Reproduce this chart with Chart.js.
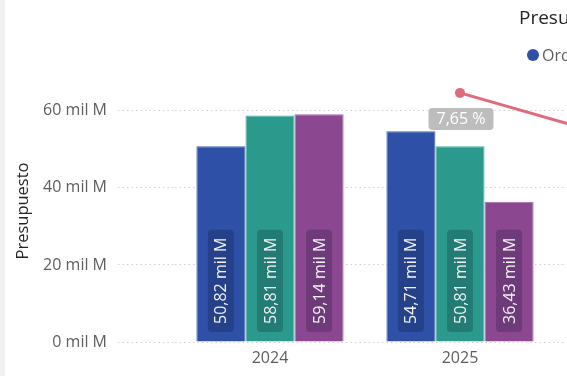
<!DOCTYPE html>
<html>
<head>
<meta charset="utf-8">
<script src="https://cdn.jsdelivr.net/npm/chart.js@4/dist/chart.umd.min.js"></script>
<style>
  html, body { margin: 0; padding: 0; background: #ffffff; overflow: hidden; }
  #stage { position: relative; width: 567px; height: 376px; overflow: hidden; background: #ffffff;
           font-family: "Segoe UI", "Open Sans", sans-serif; }
  #strip { position: absolute; left: 0; top: 0; width: 5px; height: 376px; background: #f1f1f1; }
  #chartBox { position: absolute; left: 0; top: 0; width: 760px; height: 376px; }
  #title { position: absolute; left: 519px; top: 4px; white-space: nowrap; font-size: 19px; color: #252423; }
  #legend { position: absolute; left: 527px; top: 44px; white-space: nowrap; display: flex; gap: 14px;
            font-size: 16px; color: #605E5C; }
  .item { display: flex; align-items: center; }
  .dot { width: 12px; height: 12px; border-radius: 50%; margin-right: 3px; display: inline-block; }
</style>
</head>
<body>
<div id="stage">
  <div id="strip"></div>
  <div id="chartBox"><canvas id="c" width="760" height="376"></canvas></div>
  <div id="title">Presupuesto por año</div>
  <div id="legend"></div>
</div>
<script>
// ---- data ----
const categories = ['2024', '2025', '2026'];
const seriesNames = ['Ordinario', 'Modificado', 'Ejecutado'];
const ordinario  = [50.82, 54.71, null];
const modificado = [58.81, 50.81, null];
const ejecutado  = [59.14, 36.43, null];
const variacionOrdinario = [null, 7.65, -0.57];
const yTickValues = [0, 20, 40, 60];
const yTickLabels = ['0 mil M', '20 mil M', '40 mil M', '60 mil M'];
const yAxisTitle = 'Presupuesto';

const colors = ['#2E50A6', '#2B9A8C', '#8B4790'];
const borders = ['#4866B4', '#4FAFA2', '#A868AE'];
const lineColor = '#E06A7E';

const FONT = '"Segoe UI", "Open Sans", sans-serif';
Chart.defaults.font.family = FONT;

// legend (HTML)
const legendEl = document.getElementById('legend');
seriesNames.forEach((n, i) => {
  const it = document.createElement('span'); it.className = 'item';
  const d = document.createElement('span'); d.className = 'dot'; d.style.background = colors[i];
  it.appendChild(d); it.appendChild(document.createTextNode(n));
  legendEl.appendChild(it);
});

const fmtMil = v => v.toFixed(2).replace('.', ',') + ' mil M';
const fmtPct = v => v.toFixed(2).replace('.', ',') + ' %';

function rr(ctx, x, y, w, h, r) {
  ctx.beginPath();
  ctx.moveTo(x + r, y);
  ctx.lineTo(x + w - r, y); ctx.quadraticCurveTo(x + w, y, x + w, y + r);
  ctx.lineTo(x + w, y + h - r); ctx.quadraticCurveTo(x + w, y + h, x + w - r, y + h);
  ctx.lineTo(x + r, y + h); ctx.quadraticCurveTo(x, y + h, x, y + h - r);
  ctx.lineTo(x, y + r); ctx.quadraticCurveTo(x, y, x + r, y);
  ctx.closePath();
}

const labelPlugin = {
  id: 'valueLabels',
  afterDatasetsDraw(chart) {
    const ctx = chart.ctx, area = chart.chartArea;
    chart.data.datasets.forEach((ds, i) => {
      const meta = chart.getDatasetMeta(i);
      if (meta.hidden) return;
      ctx.save();
      ctx.font = '16px ' + FONT;
      ctx.textAlign = 'center';
      ctx.textBaseline = 'middle';
      if (ds.type === 'line') {
        meta.data.forEach((pt, j) => {
          const v = ds.data[j];
          if (v == null) return;
          const t = fmtPct(v);
          const w = ctx.measureText(t).width + 16, h = 22;
          const cx = pt.x + 1, cy = pt.y + 26;
          ctx.fillStyle = 'rgba(178,178,178,0.85)';
          rr(ctx, cx - w / 2, cy - h / 2, w, h, 4); ctx.fill();
          ctx.fillStyle = '#ffffff';
          ctx.fillText(t, cx, cy + 1);
        });
      } else {
        meta.data.forEach((bar, j) => {
          const v = ds.data[j];
          if (v == null) return;
          const t = fmtMil(v);
          const L = ctx.measureText(t).width + 16, W = 26;
          const cy = area.bottom - 10 - L / 2;
          ctx.save();
          ctx.translate(bar.x, cy);
          ctx.rotate(-Math.PI / 2);
          ctx.fillStyle = 'rgba(10,15,40,0.22)';
          rr(ctx, -L / 2, -W / 2, L, W, 4); ctx.fill();
          ctx.fillStyle = '#F2F2F2';
          ctx.fillText(t, 0, 1);
          ctx.restore();
        });
      }
      ctx.restore();
    });
  }
};

const barSets = [ordinario, modificado, ejecutado].map((arr, i) => ({
  type: 'bar',
  label: seriesNames[i],
  data: arr,
  backgroundColor: colors[i],
  borderColor: borders[i],
  borderWidth: 1,
  barPercentage: 1.0,
  categoryPercentage: 0.775,
  yAxisID: 'y',
  order: 2
}));

new Chart(document.getElementById('c'), {
  data: {
    labels: categories,
    datasets: [
      {
        type: 'line',
        label: 'Variación Ordinario',
        data: variacionOrdinario,
        borderColor: lineColor,
        backgroundColor: lineColor,
        borderWidth: 3,
        pointRadius: 5,
        pointHoverRadius: 5,
        pointBackgroundColor: lineColor,
        pointBorderWidth: 0,
        tension: 0,
        yAxisID: 'y1',
        order: 0
      },
      ...barSets
    ]
  },
  options: {
    responsive: false,
    animation: false,
    devicePixelRatio: 1,
    layout: { padding: { top: 80, right: 15, bottom: 0, left: 0 } },
    plugins: { legend: { display: false }, title: { display: false }, tooltip: { enabled: false } },
    scales: {
      x: {
        type: 'category',
        grid: { display: false, drawTicks: false },
        border: { display: false },
        ticks: { color: '#605E5C', font: { size: 16 }, padding: 7 },
        afterFit(s) { s.height = 34; }
      },
      y: {
        type: 'linear',
        position: 'left',
        min: 0, max: 68,
        afterBuildTicks(s) { s.ticks = yTickValues.map(v => ({ value: v })); },
        ticks: {
          color: '#605E5C', font: { size: 16 }, padding: 11,
          callback: (v) => yTickLabels[yTickValues.indexOf(v)]
        },
        grid: {
          color: '#D0D0D0', lineWidth: 1,
          drawTicks: true, tickLength: 57, tickColor: '#D0D0D0', tickBorderDash: [1.5, 3], tickWidth: 1
        },
        border: { display: false, dash: [1.5, 3] },
        title: { display: true, text: yAxisTitle, color: '#252423', font: { size: 16.5 }, padding: { top: 13, bottom: 0 } },
        afterFit(s) { s.width = 175; }
      },
      y1: {
        type: 'linear',
        display: false,
        min: -30, max: 9.6
      }
    }
  },
  plugins: [labelPlugin]
});
</script>
</body>
</html>
